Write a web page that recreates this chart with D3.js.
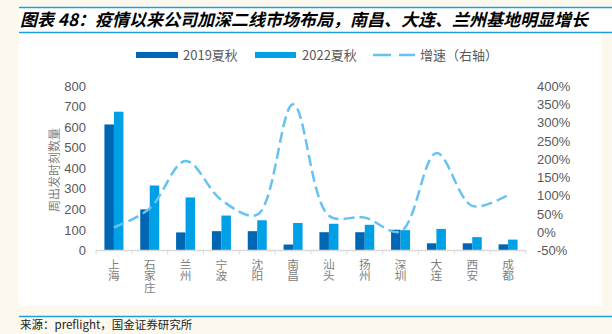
<!DOCTYPE html>
<html><head><meta charset="utf-8">
<script src="https://cdn.jsdelivr.net/npm/d3@7"></script>
<style>
html,body{margin:0;padding:0;background:#fdf8ee;}
svg{display:block;}
.vt{writing-mode:vertical-rl;text-orientation:upright;}
</style></head>
<body>
<svg id="c" width="612" height="334"></svg>
<script>
const categories = ["上海","石家庄","兰州","宁波","沈阳","南昌","汕头","扬州","深圳","大连","西安","成都"];
const s2019 = [613, 200, 88, 94, 94, 29, 89, 89, 101, 35, 35, 30];
const s2022 = [675, 316, 258, 170, 147, 134, 130, 125, 99, 105, 65, 53];
const growth = [13, 65, 195, 88, 48, 350, 45, 40, 2, 217, 72, 102];
const leftTicks = [0,100,200,300,400,500,600,700,800];
const rightTicks = [-50,0,50,100,150,200,250,300,350,400];
const seriesNames = ["2019夏秋","2022夏秋"];
const lineName = "增速（右轴）";
const titleText = "图表 48：疫情以来公司加深二线市场布局，南昌、大连、兰州基地明显增长";
const sourceText = "来源：preflight，国金证券研究所";

const c1 = "#0066b3", c2 = "#00a0e6", cl = "#66c2f2";
const font = "'Noto Sans CJK SC', 'Noto Sans', sans-serif";
const numFont = "'Liberation Sans', Arial, sans-serif";
const svg = d3.select("#c");

// backgrounds
svg.append("rect").attr("x",0).attr("y",0).attr("width",612).attr("height",334).attr("fill","#fdf8ee");
svg.append("rect").attr("x",19).attr("y",7).attr("width",593).attr("height",26).attr("fill","#ffffff");
svg.append("rect").attr("x",19).attr("y",33).attr("width",583).attr("height",273).attr("fill","#ffffff");
// rules
svg.append("line").attr("x1",19).attr("x2",612).attr("y1",7.5).attr("y2",7.5).attr("stroke","#1e9fe0").attr("stroke-width",1.5);
svg.append("line").attr("x1",19).attr("x2",612).attr("y1",32.5).attr("y2",32.5).attr("stroke","#1e9fe0").attr("stroke-width",1.5);
svg.append("line").attr("x1",19).attr("x2",612).attr("y1",316.5).attr("y2",316.5).attr("stroke","#1e9fe0").attr("stroke-width",1.5);

svg.append("text").attr("x",20).attr("y",26).attr("font-family",font).attr("font-size",17)
  .attr("font-weight","bold").attr("font-style","italic").attr("fill","#000").text(titleText);
svg.append("text").attr("x",20).attr("y",329).attr("font-family",font).attr("font-size",11.5)
  .attr("fill","#222").text(sourceText);

// scales
const x0 = d3.scaleBand().domain(categories).range([96,526]).paddingInner(0.47).paddingOuter(0.235);
const x1 = d3.scaleBand().domain(seriesNames).range([0, x0.bandwidth()]);
const yL = d3.scaleLinear().domain([0,800]).range([250.5,86]);
const yR = d3.scaleLinear().domain([-50,400]).range([250.5,86]);

// left axis labels
svg.append("g").selectAll("text").data(leftTicks).join("text")
  .attr("x",86).attr("y",d=>yL(d)).attr("dy","0.36em").attr("text-anchor","end")
  .attr("font-family",numFont).attr("font-size",13).attr("fill","#595959").text(d=>d);
// right axis labels
svg.append("g").selectAll("text").data(rightTicks).join("text")
  .attr("x",537).attr("y",d=>yR(d)).attr("dy","0.36em").attr("text-anchor","start")
  .attr("font-family",numFont).attr("font-size",13).attr("fill","#595959").text(d=>d+"%");

// y title
svg.append("text").attr("transform","translate(59,170) rotate(-90)").attr("text-anchor","middle")
  .attr("font-family",font).attr("font-size",12).attr("fill","#7f7f7f").text("周出发时刻数量");

// bars
const data = categories.map((c,i)=>({c, v:[s2019[i], s2022[i]]}));
const gb = svg.append("g");
gb.selectAll("g").data(data).join("g").attr("transform",d=>`translate(${x0(d.c)},0)`)
  .selectAll("rect").data(d=>d.v.map((v,j)=>({k:seriesNames[j], v})))
  .join("rect").attr("x",d=>x1(d.k)).attr("width",x1.bandwidth())
  .attr("y",d=>yL(d.v)).attr("height",d=>yL(0)-yL(d.v))
  .attr("fill",(d,j)=>j===0?c1:c2);

// x axis line and ticks
const xa = svg.append("g");
xa.append("line").attr("x1",96).attr("x2",526).attr("y1",250.5).attr("y2",250.5).attr("stroke","#d9d9d9").attr("stroke-width",1.5);
const step = x0.step();
xa.selectAll("line.t").data(d3.range(categories.length+1)).join("line").attr("class","t")
  .attr("x1",i=>96+i*step).attr("x2",i=>96+i*step).attr("y1",250.5).attr("y2",254.5)
  .attr("stroke","#d9d9d9").attr("stroke-width",1);

// category labels (vertical, upright characters)
svg.append("g").selectAll("text").data(categories).join("text")
  .attr("class","vt")
  .attr("x",d=>x0(d)+x0.bandwidth()/2).attr("y",258.5)
  .attr("font-family",font).attr("font-size",11.7).attr("fill","#808080").text(d=>d);

// growth line
const line = d3.line().x((d,i)=>x0(categories[i])+x0.bandwidth()/2).y(d=>yR(d)).curve(d3.curveCatmullRom.alpha(0.5));
svg.append("path").datum(growth).attr("d",line).attr("fill","none").attr("stroke",cl)
  .attr("stroke-width",2.5).attr("stroke-dasharray","11,5");

// legend
const lg = svg.append("g");
lg.append("rect").attr("x",136).attr("y",52).attr("width",42).attr("height",6).attr("fill",c1);
lg.append("text").attr("x",183).attr("y",59.5).attr("font-family",font).attr("font-size",13).attr("fill","#595959").text(seriesNames[0]);
lg.append("rect").attr("x",255).attr("y",52).attr("width",41).attr("height",6).attr("fill",c2);
lg.append("text").attr("x",302).attr("y",59.5).attr("font-family",font).attr("font-size",13).attr("fill","#595959").text(seriesNames[1]);
lg.append("line").attr("x1",373).attr("x2",415).attr("y1",55).attr("y2",55).attr("stroke",cl)
  .attr("stroke-width",2.5).attr("stroke-dasharray","18,8");
lg.append("text").attr("x",420).attr("y",59.5).attr("font-family",font).attr("font-size",13).attr("fill","#595959").text(lineName);
</script>
</body></html>
